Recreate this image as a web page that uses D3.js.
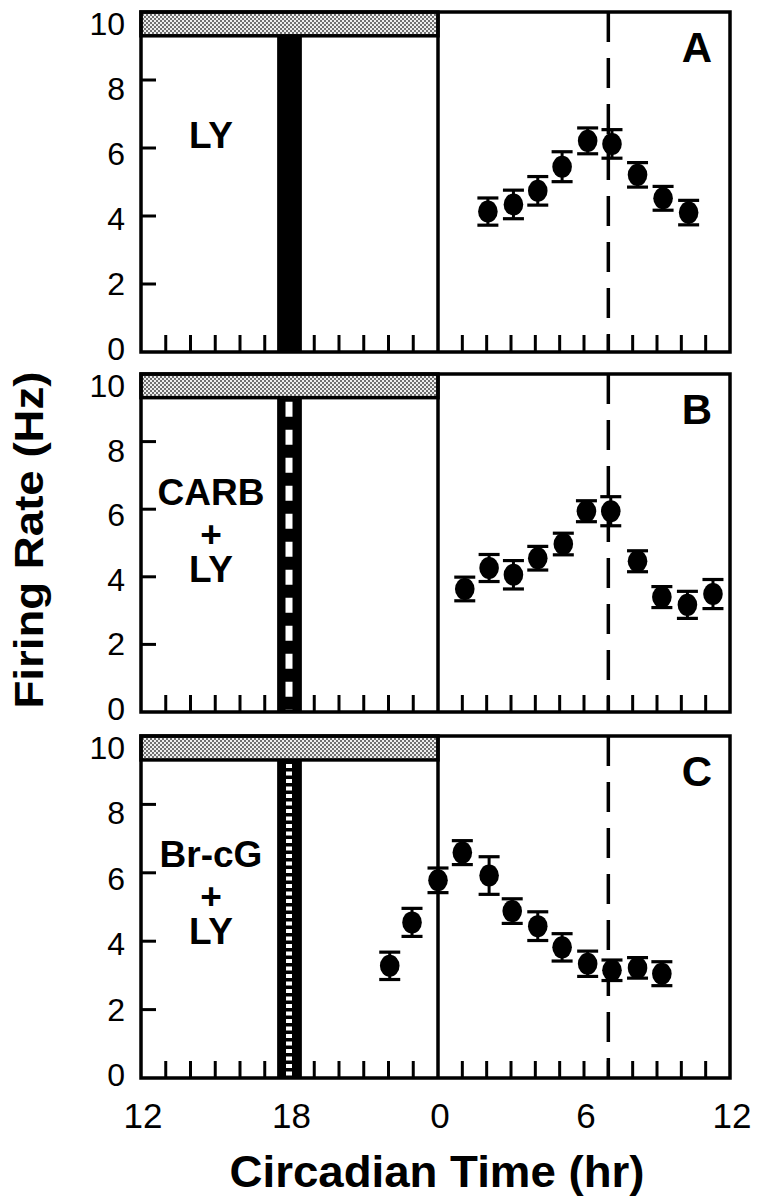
<!DOCTYPE html>
<html>
<head>
<meta charset="utf-8">
<script src="https://cdn.jsdelivr.net/npm/d3@7"></script>
<style>
  body { margin: 0; background: #fff; }
  text { font-family: "Liberation Sans", Arial, Helvetica, sans-serif; fill: #000; }
</style>
</head>
<body>
<svg id="fig" width="758" height="1200"></svg>
<script>
// ---- data ----
var panelIds = ["A", "B", "C"];
var treatmentLines = [["LY"], ["CARB", "+", "LY"], ["Br-cG", "+", "LY"]];
var pulseStyles = ["solid", "dashed", "dotted"];

// circadian time: negative = previous day (CT 12..24 shown as -12..0)
var xTickValues = [-12, -6, 0, 6, 12];
var xTickLabels = ["12", "18", "0", "6", "12"];
var hourTicks = [-11, -10, -9, -8, -7, -5, -4, -3, -2, -1, 1, 2, 3, 4, 5, 6, 7, 8, 9, 10, 11];
var yTickValues = [0, 2, 4, 6, 8, 10];
var yInnerTicks = [2, 4, 6, 8];

var nightStart = -12, nightEnd = 0, nightLow = 9.3;   // stippled bar
var pulseStart = -6.5, pulseEnd = -5.5;               // treatment at CT 18
var peakMarkerCT = 7;                                  // dashed line

var ctA   = [2.05, 3.1, 4.1, 5.1, 6.15, 7.15, 8.2, 9.25, 10.3];
var rateA = [4.13, 4.34, 4.74, 5.45, 6.21, 6.12, 5.21, 4.52, 4.10];
var semA  = [0.40, 0.42, 0.42, 0.44, 0.38, 0.42, 0.36, 0.35, 0.36];

var ctB   = [1.1, 2.1, 3.1, 4.1, 5.15, 6.1, 7.1, 8.2, 9.2, 10.25, 11.3];
var rateB = [3.64, 4.26, 4.06, 4.55, 4.97, 5.94, 5.94, 4.46, 3.40, 3.17, 3.49];
var semB  = [0.35, 0.40, 0.42, 0.35, 0.32, 0.31, 0.43, 0.31, 0.31, 0.40, 0.43];

var ctC   = [-1.95, -1.05, 0, 1.0, 2.1, 3.05, 4.1, 5.1, 6.15, 7.15, 8.2, 9.2];
var rateC = [3.28, 4.55, 5.78, 6.59, 5.92, 4.88, 4.44, 3.82, 3.34, 3.15, 3.22, 3.05];
var semC  = [0.40, 0.41, 0.36, 0.35, 0.55, 0.36, 0.42, 0.40, 0.37, 0.30, 0.30, 0.35];

var series = [
  {ct: ctA, rate: rateA, sem: semA},
  {ct: ctB, rate: rateB, sem: semB},
  {ct: ctC, rate: rateC, sem: semC}
];

// ---- layout ----
var panelTops = [12, 374, 736],
    panelBottoms = [352, 712, 1078];
var lw = 3.5;

var svg = d3.select("#fig");

var defs = svg.append("defs");
var pat = defs.append("pattern")
  .attr("id", "stipple")
  .attr("width", 4).attr("height", 4)
  .attr("patternUnits", "userSpaceOnUse");
pat.append("rect").attr("width", 4).attr("height", 4).attr("fill", "#eeeeee");
pat.append("rect").attr("width", 2).attr("height", 2).attr("fill", "#707070");
pat.append("rect").attr("x", 2).attr("y", 2).attr("width", 2).attr("height", 2).attr("fill", "#707070");

// left half (CT 12-24) is a bit wider than right half in the original
var x = d3.scaleLinear().domain([-12, 0, 12]).range([141, 438, 730]);

panelIds.forEach(function(id, i) {
  var y = d3.scaleLinear().domain([0, 10]).range([panelBottoms[i], panelTops[i]]);
  // tick labels sit a little inside the frame in the original
  var yLab = d3.scaleLinear().domain([0, 10]).range([panelBottoms[i] - 3, panelTops[i] + 12]);
  var g = svg.append("g").attr("class", "panel-" + id);
  var data = series[i].ct.map(function(c, k) {
    return {ct: c, rate: series[i].rate[k], sem: series[i].sem[k]};
  });

  // stippled night bar
  g.append("rect")
    .attr("x", x(nightStart)).attr("y", y(10))
    .attr("width", x(nightEnd) - x(nightStart))
    .attr("height", y(nightLow) - y(10))
    .attr("fill", "url(#stipple)")
    .attr("stroke", "#000").attr("stroke-width", lw);

  // frame
  g.append("rect")
    .attr("x", x(-12)).attr("y", y(10))
    .attr("width", x(12) - x(-12))
    .attr("height", y(0) - y(10))
    .attr("fill", "none")
    .attr("stroke", "#000").attr("stroke-width", lw);

  // CT 0 divider
  g.append("line")
    .attr("x1", x(0)).attr("x2", x(0))
    .attr("y1", y(10)).attr("y2", y(0))
    .attr("stroke", "#000").attr("stroke-width", lw);

  // hour ticks (inward)
  g.selectAll(".xt").data(hourTicks).enter().append("line")
    .attr("x1", function(d) { return x(d); })
    .attr("x2", function(d) { return x(d); })
    .attr("y1", y(0)).attr("y2", y(0) - 17)
    .attr("stroke", "#000").attr("stroke-width", 3);

  // y ticks (inward)
  g.selectAll(".yt").data(yInnerTicks).enter().append("line")
    .attr("x1", x(-12)).attr("x2", x(-12) + 15)
    .attr("y1", function(d) { return y(d); })
    .attr("y2", function(d) { return y(d); })
    .attr("stroke", "#000").attr("stroke-width", 3);

  g.selectAll(".yl").data(yTickValues).enter().append("text")
    .attr("x", 125)
    .attr("y", function(d) { return yLab(d) + 11; })
    .attr("text-anchor", "end")
    .style("font-size", "32px")
    .text(function(d) { return d; });

  // treatment pulse bar
  g.append("rect")
    .attr("x", x(pulseStart)).attr("y", y(nightLow))
    .attr("width", x(pulseEnd) - x(pulseStart))
    .attr("height", y(0) - y(nightLow))
    .attr("fill", "#000");

  var pulseMid = (x(pulseStart) + x(pulseEnd)) / 2 - 0.5;
  if (pulseStyles[i] === "dashed") {
    g.append("line")
      .attr("x1", pulseMid).attr("x2", pulseMid)
      .attr("y1", y(nightLow) + 4).attr("y2", y(0) - 2)
      .attr("stroke", "#fff").attr("stroke-width", 7)
      .attr("stroke-dasharray", "15,13");
  } else if (pulseStyles[i] === "dotted") {
    g.append("line")
      .attr("x1", pulseMid).attr("x2", pulseMid)
      .attr("y1", y(nightLow) + 4).attr("y2", y(0) - 2)
      .attr("stroke", "#fff").attr("stroke-width", 6)
      .attr("stroke-dasharray", "4,3.5");
  }

  // dashed line at CT 7
  g.append("line")
    .attr("x1", x(peakMarkerCT)).attr("x2", x(peakMarkerCT))
    .attr("y1", y(10)).attr("y2", y(0))
    .attr("stroke", "#000").attr("stroke-width", lw)
    .attr("stroke-dasharray", "30,16");

  // error bars
  var eb = g.selectAll(".eb").data(data).enter().append("g");
  eb.append("line")
    .attr("x1", function(d) { return x(d.ct); })
    .attr("x2", function(d) { return x(d.ct); })
    .attr("y1", function(d) { return y(d.rate - d.sem); })
    .attr("y2", function(d) { return y(d.rate + d.sem); })
    .attr("stroke", "#000").attr("stroke-width", 3);
  [-1, 1].forEach(function(sgn) {
    eb.append("line")
      .attr("x1", function(d) { return x(d.ct) - 10.5; })
      .attr("x2", function(d) { return x(d.ct) + 10.5; })
      .attr("y1", function(d) { return y(d.rate + sgn * d.sem); })
      .attr("y2", function(d) { return y(d.rate + sgn * d.sem); })
      .attr("stroke", "#000").attr("stroke-width", 3.2);
  });

  g.selectAll(".pt").data(data).enter().append("ellipse")
    .attr("cx", function(d) { return x(d.ct); })
    .attr("cy", function(d) { return y(d.rate); })
    .attr("rx", 9.8).attr("ry", 11)
    .attr("fill", "#000");

  // panel letter
  g.append("text")
    .attr("x", 712).attr("y", y(10) + 50)
    .attr("text-anchor", "end")
    .style("font-size", "42px").style("font-weight", "bold")
    .text(id);

  // treatment label, one text block with a tspan per line
  var lines = treatmentLines[i];
  var offs = lines.length === 1 ? [136] : [131, 173, 208];
  var lab = g.append("text")
    .attr("text-anchor", "middle")
    .style("font-size", "37px").style("font-weight", "bold");
  lines.forEach(function(t, k) {
    lab.append("tspan")
      .attr("x", 211).attr("y", y(10) + offs[k])
      .text(t);
  });
});

// x tick labels (bottom panel only)
svg.selectAll(".xl").data(xTickValues).enter().append("text")
  .attr("x", function(d) { return x(d) + 2; })
  .attr("y", 1128)
  .attr("text-anchor", "middle")
  .style("font-size", "35px")
  .text(function(d, k) { return xTickLabels[k]; });

svg.append("text")
  .attr("x", 437).attr("y", 1187)
  .attr("text-anchor", "middle")
  .attr("textLength", 415).attr("lengthAdjust", "spacingAndGlyphs")
  .style("font-size", "44px").style("font-weight", "bold")
  .text("Circadian Time (hr)");

svg.append("text")
  .attr("transform", "translate(43,540) rotate(-90)")
  .attr("text-anchor", "middle")
  .attr("textLength", 337).attr("lengthAdjust", "spacingAndGlyphs")
  .style("font-size", "40px").style("font-weight", "bold")
  .text("Firing Rate (Hz)");
</script>
</body>
</html>
